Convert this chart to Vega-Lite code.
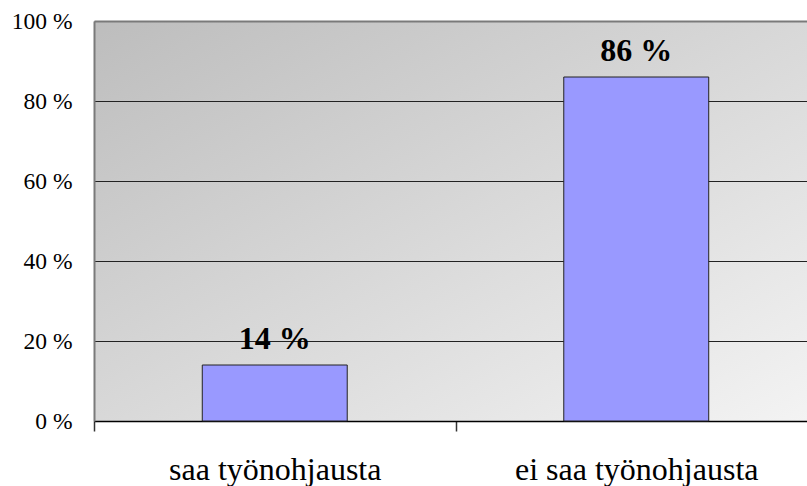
{
  "$schema": "https://vega.github.io/schema/vega-lite/v6.json",
  "width": 713,
  "height": 400,
  "autosize": {"type": "none"},
  "padding": {"left": 94, "top": 21, "right": 0, "bottom": 65},
  "background": "white",
  "config": {
    "view": {
      "stroke": null,
      "fill": {"gradient": "linear", "x1": 0, "y1": 0, "x2": 1, "y2": 1,
        "stops": [{"offset": 0, "color": "#bdbdbd"}, {"offset": 1, "color": "#f3f3f3"}]}
    },
    "font": "Liberation Serif",
    "axis": {"labelFont": "Liberation Serif"},
    "text": {"font": "Liberation Serif"}
  },
  "data": {
    "values": [
      {"kategoria": "saa työnohjausta", "osuus": 14, "teksti": "14 %"},
      {"kategoria": "ei saa työnohjausta", "osuus": 86, "teksti": "86 %"}
    ]
  },
  "encoding": {
    "x": {
      "field": "kategoria", "type": "nominal", "sort": null,
      "scale": {"range": [0, 723], "paddingInner": 0, "paddingOuter": 0},
      "axis": {
        "title": null, "labelAngle": 0, "labelFontSize": 32,
        "labelColor": "black", "labelBaseline": "alphabetic", "labelPadding": 48, "labelLimit": 400,
        "tickBand": "extent", "tickSize": 10, "tickColor": "#333", "tickWidth": 1.5,
        "domainColor": "black", "domainWidth": 1.5, "grid": false
      }
    },
    "y": {
      "field": "osuus", "type": "quantitative",
      "scale": {"domain": [0, 100], "nice": false},
      "axis": {
        "title": null, "values": [0, 20, 40, 60, 80, 100], "labelExpr": "datum.value + ' %'",
        "labelFontSize": 23.5, "labelColor": "black",
        "labelPadding": 22, "ticks": false,
        "domainColor": "#7a7a7a", "domainWidth": 2,
        "grid": true,
        "gridColor": {"condition": {"test": "datum.value === 100", "value": "#7a7a7a"}, "value": "#222222"},
        "gridWidth": {"condition": {"test": "datum.value === 100", "value": 2}, "value": 1}
      }
    }
  },
  "layer": [
    {"mark": {"type": "bar", "fill": "#9999ff", "stroke": "#222", "strokeWidth": 1, "width": {"band": 0.401}}},
    {
      "mark": {"type": "text", "baseline": "alphabetic", "dy": -16, "fontSize": 32, "fontWeight": "bold", "color": "black"},
      "encoding": {"text": {"field": "teksti", "type": "nominal"}}
    }
  ]
}
